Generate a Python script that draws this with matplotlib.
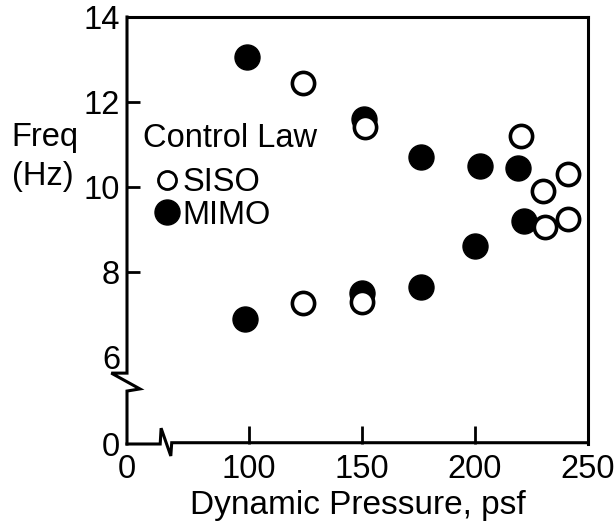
import matplotlib
matplotlib.use("Agg")
import matplotlib.pyplot as plt
from matplotlib.lines import Line2D

plt.rcParams['font.family'] = ['Liberation Sans', 'DejaVu Sans']
FS = 23.5

# dynamic pressure (psf) and frequency (Hz)
siso_q = [124, 151.5, 220.5, 241, 230, 231, 241, 124, 150]
siso_f = [12.45, 11.4, 11.2, 10.3, 9.9, 9.05, 9.25, 7.27, 7.3]
mimo_q = [99, 151, 176, 202, 219, 221.5, 200, 98, 150, 176]
mimo_f = [13.05, 11.6, 10.7, 10.5, 10.45, 9.2, 8.6, 6.9, 7.5, 7.65]

x_ticks = [46, 100, 150, 200, 250]
x_labels = ['0', '100', '150', '200', '250']
y_ticks = [3.95, 6, 8, 10, 12, 14]
y_labels = ['0', '6', '8', '10', '12', '14']

fig = plt.figure(figsize=(6.14, 5.24), dpi=100)
ax = fig.add_axes([127/614, 1 - 444/524, 461/614, 427/524])

# filled points first, open ones on top
ax.plot(mimo_q, mimo_f, 'o', ms=18, mfc='black', mec='black', mew=1, ls='none', zorder=3)
ax.plot(siso_q, siso_f, 'o', ms=16, mfc='white', mec='black', mew=2.6, ls='none', zorder=4)

ax.set_xlim(46, 250)
ax.set_ylim(3.95, 14)

ax.set_xticks(x_ticks)
ax.set_xticklabels(x_labels)
ax.set_yticks(y_ticks)
ax.set_yticklabels(y_labels)
ax.tick_params(axis='x', direction='in', length=13, width=2, pad=7, labelsize=FS)
ax.tick_params(axis='y', direction='in', length=9, width=2, pad=5, labelsize=FS)
# no tick marks at the broken ends / at 6 / at 250
for i in (0, 4):
    ax.xaxis.get_major_ticks()[i].tick1line.set_visible(False)
for i in (0, 1, 5):
    ax.yaxis.get_major_ticks()[i].tick1line.set_visible(False)

# spines: top and right normal, left and bottom with break marks
for s in ('top', 'right'):
    ax.spines[s].set_linewidth(2.2)
ax.spines['left'].set_visible(False)
ax.spines['bottom'].set_visible(False)

lw = 2.2
ax.plot([0, 0, -0.034, 0.028, 0, 0], [1, 0.166, 0.166, 0.129, 0.124, 0],
        transform=ax.transAxes, color='black', lw=lw, clip_on=False,
        solid_joinstyle='miter', zorder=5)
ax.plot([0, 0.072, 0.074, 0.095, 0.097, 1], [0, 0, 0.037, -0.028, 0.003, 0.003],
        transform=ax.transAxes, color='black', lw=lw, clip_on=False,
        solid_joinstyle='miter', zorder=5)

ax.set_xlabel('Dynamic Pressure, psf', fontsize=24, labelpad=4)
ax.set_ylabel('Freq\n(Hz)', fontsize=FS, rotation=0, ha='left', va='center',
              multialignment='left', linespacing=1.3)
ax.yaxis.set_label_coords(-0.25, 0.672)

# key
ax.text(0.035, 0.6956, 'Control Law', transform=ax.transAxes, fontsize=FS,
        ha='left', va='baseline')
handles = [
    Line2D([], [], marker='o', ls='none', ms=13, mfc='white', mec='black', mew=2.0),
    Line2D([], [], marker='o', ls='none', ms=18, mfc='black', mec='black'),
]
leg = ax.legend(handles, ['SISO', 'MIMO'], loc='center left',
                bbox_to_anchor=(0.058, 0.574), frameon=False, fontsize=FS,
                handlelength=0.8, handletextpad=0.08, labelspacing=0.05,
                borderpad=0, borderaxespad=0)

fig.savefig('out.png', dpi=100)
